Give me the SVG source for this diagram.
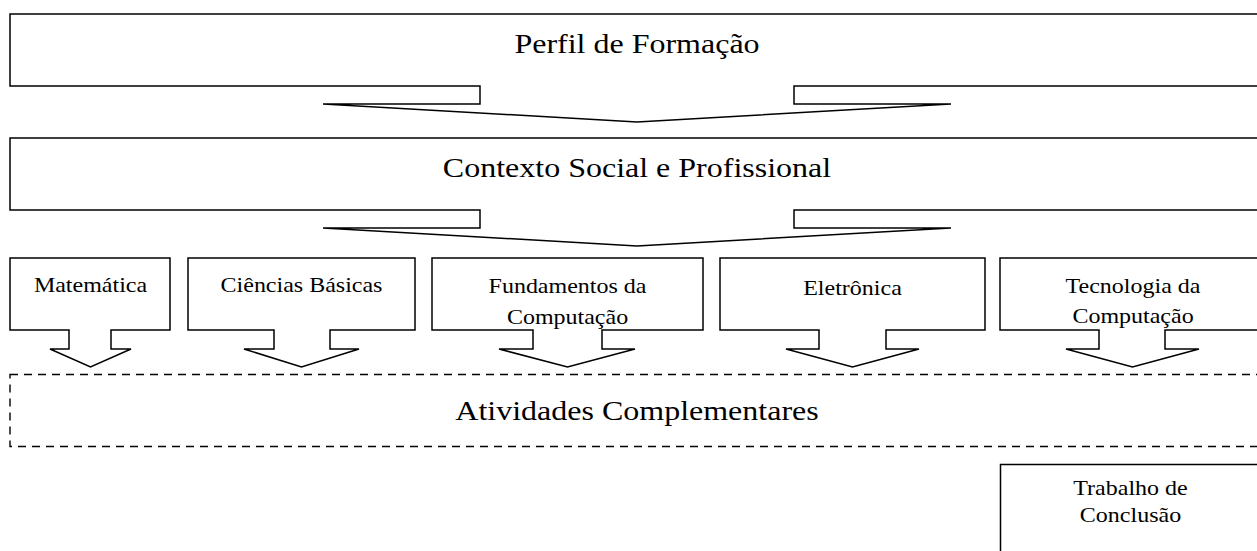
<svg xmlns="http://www.w3.org/2000/svg" width="1257" height="551" viewBox="0 0 1257 551">
<style>
.shape{fill:#fff;stroke:#000;stroke-width:1.5;stroke-linejoin:miter}
.dash{fill:none;stroke:#000;stroke-width:1.4;stroke-dasharray:8 6}
.big{font-family:"Liberation Serif","Times New Roman",serif;font-size:32px;fill:#000;text-anchor:middle}
.small{font-family:"Liberation Serif","Times New Roman",serif;font-size:24px;fill:#000;text-anchor:middle}
</style>
<rect width="1257" height="551" fill="#fff"/>
<g id="perfil">
<path class="shape" d="M10,14 H1264 V86 H794 V104 H951 L637,122 L323,104 H480 V86 H10 Z"/>
<text class="big" transform="translate(637,53.3) scale(1,0.87)">Perfil de Formação</text>
</g>
<g id="contexto">
<path class="shape" d="M10,138 H1264 V210 H794 V228 H951 L637,246 L323,228 H480 V210 H10 Z"/>
<text class="big" transform="translate(637,176.7) scale(1,0.87)">Contexto Social e Profissional</text>
</g>
<g id="matematica">
<path class="shape" d="M10,258 H170 V330 H111 V349 H131 L90.5,367 L50,349 H69 V330 H10 Z"/>
<text class="small" transform="translate(90.5,292) scale(1,0.87)">Matemática</text>
</g>
<g id="ciencias">
<path class="shape" d="M188,258 H415 V330 H330 V349 H359 L301.5,367 L244,349 H274 V330 H188 Z"/>
<text class="small" transform="translate(301.5,292) scale(1,0.87)">Ciências Básicas</text>
</g>
<g id="fundamentos">
<path class="shape" d="M432,258 H703 V330 H602 V349 H635 L567.5,367 L499,349 H533 V330 H432 Z"/>
<text class="small" transform="translate(567.5,293.3) scale(1,0.87)">Fundamentos da</text>
<text class="small" transform="translate(567.5,323.5) scale(1,0.87)">Computação</text>
</g>
<g id="eletronica">
<path class="shape" d="M720,258 H985 V330 H886 V349 H919 L852.5,367 L786,349 H819 V330 H720 Z"/>
<text class="small" transform="translate(852.5,295) scale(1,0.87)">Eletrônica</text>
</g>
<g id="tecnologia">
<path class="shape" d="M1000,258 H1265 V330 H1165 V349 H1199 L1132.5,367 L1066,349 H1099 V330 H1000 Z"/>
<text class="small" transform="translate(1133,293.3) scale(1,0.87)">Tecnologia da</text>
<text class="small" transform="translate(1133,323.3) scale(1,0.87)">Computação</text>
</g>
<g id="atividades">
<rect class="dash" x="10" y="374.5" width="1260" height="72"/>
<text class="big" transform="translate(637,420) scale(1,0.87)">Atividades Complementares</text>
</g>
<g id="trabalho">
<rect class="shape" x="1000.5" y="464.5" width="270" height="100"/>
<text class="small" transform="translate(1130.5,495) scale(1,0.87)">Trabalho de</text>
<text class="small" transform="translate(1130.5,521.7) scale(1,0.87)">Conclusão</text>
</g>
<g id="connectors"></g>
</svg>
